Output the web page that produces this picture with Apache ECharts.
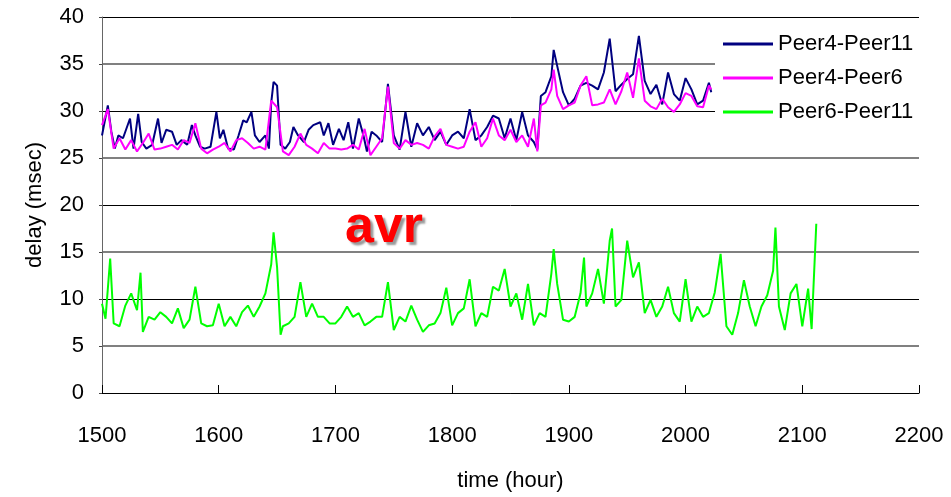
<!DOCTYPE html>
<html>
<head>
<meta charset="utf-8">
<script src="https://cdn.jsdelivr.net/npm/echarts@6/dist/echarts.min.js"></script>
<style>
  html, body { margin: 0; padding: 0; background: #fff; }
  #main { width: 951px; height: 497px; }
</style>
</head>
<body>
<div id="main"></div>
<script>
// Peer4-Peer11 (hours, delay)
var hoursBlue = [1500,1505,1508,1511,1514,1518,1524,1527,1531,1534,1538,1543,1548,1551,1555,1560,1564,1568,1573,1577,
  1580,1584,1588,1593,1598,1601,1604,1608,1613,1617,1621,1624,1628,1631,1635,1640,1643,1645,1647,1650,
  1653,1657,1661,1664,1668,1673,1677,1681,1687,1690,1694,1698,1703,1707,1711,1715,1720,1724,1727,1731,
  1735,1740,1745,1750,1755,1760,1765,1770,1775,1780,1785,1790,1795,1800,1805,1810,1815,1820,1825,1830,
  1835,1840,1845,1850,1855,1860,1865,1870,1873,1876,1880,1885,1887,1890,1895,1900,1905,1910,1915,1920,
  1925,1930,1935,1940,1945,1950,1955,1960,1965,1970,1975,1980,1985,1990,1995,2000,2005,2010,2015,2020,2022];

var peer4_11 = [27.4,30.6,27.8,26.0,27.4,27.1,29.2,26.0,29.7,26.7,26.0,26.4,29.2,26.6,28.0,27.8,26.4,26.9,26.4,28.5,
  27.4,26.2,26.0,26.2,29.9,27.1,28.0,26.0,25.9,27.4,29.0,28.8,29.9,27.4,26.7,27.4,26.0,30.9,33.1,32.7,
  26.4,26.0,26.7,28.3,27.4,26.7,28.0,28.5,28.8,27.4,28.7,26.4,28.1,26.9,28.8,26.0,29.2,27.4,25.7,27.8,
  27.4,26.7,32.9,27.4,25.9,29.9,26.2,28.7,27.4,28.3,26.9,27.8,26.4,27.4,27.8,27.1,30.2,26.9,27.4,28.3,
  29.5,29.2,27.1,29.2,26.9,29.9,27.4,26.7,25.9,31.6,32.0,33.7,36.5,34.8,32.0,30.6,31.3,32.7,33.0,32.7,
  32.3,34.1,37.7,32.1,32.8,33.4,33.9,38.0,33.2,31.8,32.8,30.7,34.1,31.8,31.1,33.5,32.3,30.7,31.1,33.0,32.0];

// Peer4-Peer6 (hours, delay)
var hoursPink = [1500,1505,1510,1515,1520,1525,1530,1535,1540,1545,1550,1555,1560,1565,1570,1575,1580,1585,1590,1595,
  1600,1605,1610,1615,1620,1625,1630,1635,1640,1645,1650,1655,1660,1665,1670,1675,1680,1685,1690,1695,
  1700,1705,1710,1715,1720,1725,1730,1735,1740,1745,1750,1755,1760,1765,1770,1775,1780,1785,1790,1795,
  1800,1805,1810,1815,1820,1825,1830,1835,1840,1845,1850,1855,1860,1865,1870,1873,1876,1880,1885,1887,
  1890,1895,1900,1905,1910,1915,1920,1925,1930,1935,1940,1945,1950,1955,1960,1965,1970,1975,1980,1985,
  1990,1995,2000,2005,2010,2015,2020,2022];

var peer4_6 = [28.5,30.2,26.0,27.1,25.9,26.9,25.7,26.6,27.6,25.9,26.0,26.2,26.4,25.9,26.9,26.6,28.7,26.0,25.5,25.9,
  26.2,26.6,25.7,26.9,27.1,26.6,26.0,26.2,25.9,31.1,30.4,25.7,25.3,26.2,27.6,26.4,26.0,25.5,26.6,26.0,
  26.0,25.9,26.0,26.4,25.9,28.1,25.3,26.2,27.1,32.6,26.6,26.0,26.9,26.4,26.6,26.4,26.0,27.3,28.1,26.4,
  26.2,26.0,26.2,27.8,28.8,26.2,27.1,29.2,27.4,26.9,28.0,26.7,27.4,26.2,29.2,25.7,30.6,30.9,32.3,34.4,
  31.6,30.2,30.6,30.9,32.7,33.7,30.6,30.7,30.9,32.3,30.7,32.1,34.1,31.4,35.6,31.1,30.5,30.2,31.3,30.4,
  29.9,30.7,31.9,31.6,30.5,30.4,32.7,32.3];

// Peer6-Peer11 (hours, delay)
var hoursGreen = [1500,1503,1507,1510,1515,1520,1525,1530,1533,1535,1540,1545,1550,1555,1560,1565,1570,1575,1580,1585,
  1590,1595,1600,1605,1610,1615,1620,1625,1630,1635,1640,1645,1647,1650,1653,1655,1660,1665,1670,1675,
  1680,1685,1690,1695,1700,1705,1710,1715,1720,1725,1730,1735,1740,1745,1750,1755,1760,1765,1770,1775,
  1780,1785,1790,1795,1800,1805,1810,1815,1820,1825,1830,1835,1840,1845,1850,1855,1860,1865,1870,1875,
  1880,1885,1887,1890,1895,1900,1905,1910,1913,1915,1920,1925,1930,1935,1937,1940,1945,1950,1955,1960,
  1965,1970,1975,1980,1985,1990,1995,2000,2005,2010,2015,2020,2025,2030,2035,2040,2045,2050,2055,2060,
  2065,2070,2075,2077,2080,2085,2090,2095,2100,2105,2108,2112];

var peer6_11 = [9.5,7.9,14.3,7.4,7.1,9.3,10.6,8.8,12.8,6.5,8.1,7.8,8.6,8.1,7.4,9.0,6.9,7.8,11.3,7.4,
  7.1,7.2,9.5,7.1,8.1,7.1,8.6,9.3,8.1,9.2,10.6,13.7,17.1,13.4,6.2,7.1,7.4,8.1,11.8,8.1,
  9.5,8.1,8.1,7.4,7.4,8.1,9.2,8.1,8.5,7.2,7.6,8.1,8.1,11.8,6.7,8.1,7.6,9.3,7.8,6.5,
  7.2,7.4,8.5,11.2,7.2,8.5,9.0,12.1,7.1,8.5,8.1,11.3,10.9,13.2,9.2,10.6,7.8,11.6,7.2,8.5,
  8.1,12.7,15.3,11.6,7.8,7.6,8.1,10.6,14.4,9.2,10.6,13.2,9.5,16.2,17.5,9.2,9.9,16.2,12.3,13.9,
  8.5,9.9,8.1,9.2,11.3,8.5,7.6,12.1,7.6,9.2,8.1,8.5,10.7,14.8,7.1,6.2,8.5,12.0,9.2,7.1,
  9.2,10.4,13.0,17.6,9.2,6.7,10.6,11.6,7.1,11.1,6.8,18.0];

var seriesNames = ['Peer4-Peer11', 'Peer4-Peer6', 'Peer6-Peer11'];
var seriesColors = ['#000080', '#ff00ff', '#00ff00'];

function pairs(xs, ys) {
  return xs.map(function (x, i) { return [x, ys[i]]; });
}

var myChart = echarts.init(document.getElementById('main'));

var font = 'Liberation Sans, Arial, sans-serif';

function lineSeries(i, xs, ys) {
  return {
    name: seriesNames[i],
    type: 'line',
    showSymbol: false,
    symbol: 'none',
    color: seriesColors[i],
    lineStyle: { width: 2 },
    data: pairs(xs, ys)
  };
}

var option = {
  backgroundColor: '#fff',
  animation: false,
  grid: { left: 102, right: 32, top: 17, bottom: 100 },
  legend: {
    orient: 'vertical',
    left: 715,
    top: 26,
    padding: [6, 6, 6, 8],
    backgroundColor: '#fff',
    icon: 'rect',
    itemWidth: 50,
    itemHeight: 3,
    itemGap: 10,
    textStyle: { fontFamily: font, fontSize: 22, color: '#000', lineHeight: 24 },
    data: seriesNames
  },
  xAxis: {
    type: 'value',
    min: 1500,
    max: 2200,
    interval: 100,
    name: 'time (hour)',
    nameLocation: 'middle',
    nameGap: 77,
    nameTextStyle: { fontFamily: font, fontSize: 22, color: '#000' },
    axisLine: { lineStyle: { color: '#000', width: 1 } },
    axisTick: { inside: true, length: 8, lineStyle: { color: '#000' } },
    axisLabel: {
      fontFamily: font, fontSize: 22, color: '#000', margin: 32,
      formatter: function (v) { return String(v); }
    },
    splitLine: { show: false }
  },
  yAxis: [{
    type: 'value',
    min: 0,
    max: 40,
    interval: 5,
    name: 'delay (msec)',
    nameLocation: 'middle',
    nameGap: 56,
    nameTextStyle: { fontFamily: font, fontSize: 22, color: '#000' },
    axisLine: { show: true, lineStyle: { color: '#666', width: 1 } },
    axisTick: { show: true, inside: false, length: 3, lineStyle: { color: '#444' } },
    axisLabel: { fontFamily: font, fontSize: 22, color: '#000', margin: 18 },
    splitLine: { show: true, lineStyle: { color: ['transparent', '#808080'], width: 2 } }
  }, {
    type: 'value',
    min: 0,
    max: 40,
    interval: 10,
    position: 'left',
    axisLine: { show: false },
    axisTick: { show: false },
    axisLabel: { show: false },
    splitLine: { show: true, lineStyle: { color: '#000', width: 1 } }
  }],
  graphic: [{
    type: 'text',
    left: 345,
    top: 202,
    z: 10,
    style: {
      text: 'avr',
      fill: '#ff0000',
      font: 'bold 52px ' + font,
      textShadowColor: '#999',
      textShadowOffsetX: 3,
      textShadowOffsetY: 3,
      textShadowBlur: 2
    }
  }],
  series: [
    lineSeries(0, hoursBlue, peer4_11),
    lineSeries(1, hoursPink, peer4_6),
    lineSeries(2, hoursGreen, peer6_11)
  ]
};

myChart.setOption(option);
</script>
</body>
</html>
